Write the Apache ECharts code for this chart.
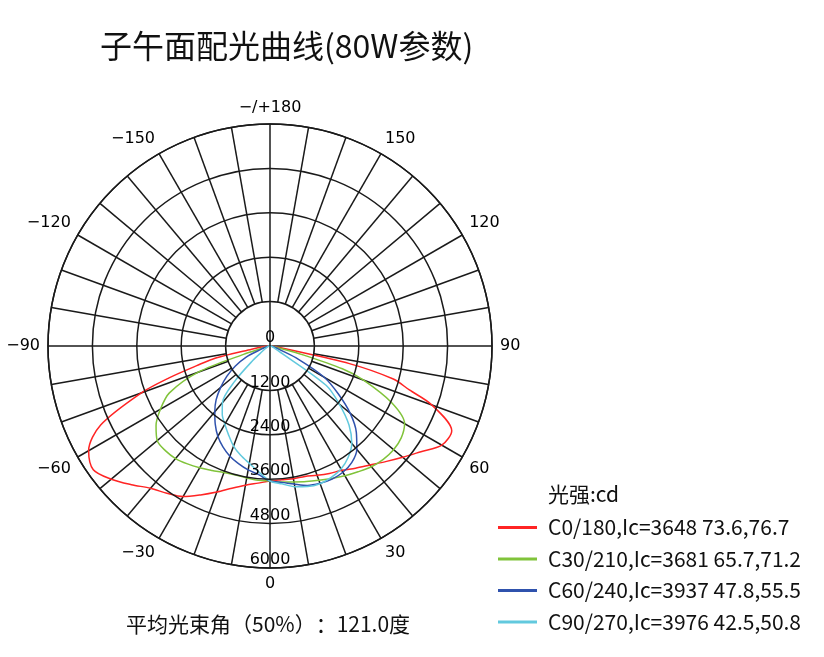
<!DOCTYPE html>
<html>
<head>
<meta charset="utf-8">
<script src="https://cdn.jsdelivr.net/npm/echarts@6/dist/echarts.min.js"></script>
<style>
  html, body { margin: 0; padding: 0; background: #fff; }
  #chart { width: 824px; height: 657px; }
</style>
</head>
<body>
<div id="chart"></div>
<script>
// 垂直角 γ (0 = 正下方)
const gammas = [0, 5, 10, 15, 20, 25, 30, 35, 40, 45, 50, 55, 60, 65, 70, 72.5, 75, 77.5, 80, 85, 90]

// 每个C平面: 左半边 / 右半边 光强(cd)
const c0Left = [3650, 3720, 3820, 3980, 4200, 4440, 4700, 4860, 5020, 5300, 5600, 5830, 5660, 5050, 3700, 2860, 2050, 1500, 500, 150, 50]
const c0Right = [3650, 3630, 3640, 3650, 3720, 3800, 3880, 4030, 4200, 4420, 4680, 4980, 5360, 5420, 4650, 3950, 3450, 2200, 350, 120, 50]
const c30Left = [3650, 3640, 3620, 3610, 3640, 3710, 3800, 3890, 3970, 4000, 3980, 3760, 3420, 3000, 2050, 750, 200, 120, 80, 50, 30]
const c30Right = [3650, 3690, 3730, 3790, 3860, 3950, 4050, 4150, 4260, 4330, 4360, 4330, 4200, 3630, 2680, 2050, 900, 250, 120, 60, 30]
const c60Left = [3650, 3490, 3400, 3290, 3170, 3010, 2820, 2580, 2320, 2060, 1740, 1420, 1080, 720, 250, 180, 130, 100, 80, 50, 30]
const c60Right = [3650, 3700, 3790, 3900, 3950, 3970, 3940, 3850, 3650, 3300, 2830, 2250, 1700, 850, 250, 180, 130, 100, 80, 50, 30]
const c90Left = [3650, 3420, 3220, 3060, 2880, 2650, 2440, 2250, 2000, 1350, 600, 250, 150, 100, 80, 70, 60, 50, 40, 30, 20]
const c90Right = [3650, 3740, 3860, 3930, 3960, 3920, 3840, 3680, 3440, 3020, 2450, 1850, 250, 120, 80, 70, 60, 50, 40, 30, 20]

const seriesNames = ['C0/180,Ic=3648 73.6,76.7', 'C30/210,Ic=3681 65.7,71.2', 'C60/240,Ic=3937 47.8,55.5', 'C90/270,Ic=3976 42.5,50.8']
const seriesColors = ['#ff2424', '#80c33a', '#2f52ad', '#62c9de']

const rMax = 6000
const ringStep = 1200
const gridColor = '#1a1a1a'

// 左半边 γ -> 360-γ, 右半边 γ
function toPolar(left, right) {
  const pts = []
  for (let i = gammas.length - 1; i >= 0; i--) pts.push([left[i], 360 - gammas[i]])
  for (let i = 0; i < gammas.length; i++) pts.push([right[i], gammas[i]])
  return pts
}

const curveData = [
  toPolar(c0Left, c0Right),
  toPolar(c30Left, c30Right),
  toPolar(c60Left, c60Right),
  toPolar(c90Left, c90Right),
]

const spokeAngles = []
for (let a = 0; a < 360; a += 10) spokeAngles.push([rMax, a])

const chart = echarts.init(document.getElementById('chart'))

const lineSeries = curveData.map((d, i) => ({
  name: seriesNames[i],
  type: 'line',
  coordinateSystem: 'polar',
  data: d,
  symbol: 'none',
  smooth: 0.3,
  lineStyle: { color: seriesColors[i], width: 1.5 },
  itemStyle: { color: seriesColors[i] },
  z: 3,
}))

const cjk = { fontFamily: 'Noto Sans CJK SC', fontSize: 21, color: '#111' }

chart.setOption({
  animation: false,
  title: [
    {
      text: '子午面配光曲线(80W参数)',
      left: 100,
      top: 30,
      padding: 0,
      textStyle: { fontFamily: 'Noto Sans CJK SC', fontSize: 32, fontWeight: 'normal', color: '#111' },
    },
    {
      text: '光强:cd',
      left: 548,
      top: 484,
      padding: 0,
      textStyle: { fontFamily: 'Noto Sans CJK SC', fontSize: 21, fontWeight: 'normal', color: '#111' },
    },
    {
      text: '{a|平均光束角}{a|（}{a|50%}{a|）}{a|：}{a|121.0度}',
      left: 126,
      top: 614,
      padding: 0,
      textStyle: {
        fontFamily: 'Noto Sans CJK SC', fontSize: 21, fontWeight: 'normal', color: '#111',
        rich: { a: cjk },
      },
    },
  ],
  legend: {
    data: seriesNames,
    orient: 'vertical',
    left: 498,
    top: 517,
    padding: 0,
    icon: 'rect',
    itemWidth: 39,
    itemHeight: 3,
    itemGap: 10.5,
    textStyle: { fontFamily: 'Noto Sans CJK SC', fontSize: 21, lineHeight: 21, color: '#111', padding: [0, 0, 0, 6] },
  },
  polar: {
    center: [270, 346],
    radius: 222,
  },
  angleAxis: {
    type: 'value',
    min: 0,
    max: 360,
    interval: 10,
    startAngle: 270,
    clockwise: false,
    axisLine: { lineStyle: { color: gridColor, width: 1.5 } },
    axisTick: { show: false },
    splitLine: { show: false },
    axisLabel: {
      margin: 8,
      fontFamily: 'DejaVu Sans',
      fontSize: 16,
      color: '#000',
      formatter: (v) => {
        if (v % 30 !== 0 || v === 360) return ''
        if (v === 180) return '\u2212/+180'
        if (v > 180) return '\u2212' + (360 - v)
        return String(v)
      },
    },
  },
  radiusAxis: {
    type: 'value',
    min: 0,
    max: rMax,
    interval: ringStep,
    axisLine: { show: false },
    axisTick: { show: false },
    splitLine: { show: true, lineStyle: { color: gridColor, width: 1.5 } },
    axisLabel: {
      margin: 0,
      align: 'center',
      verticalAlign: 'bottom',
      fontFamily: 'DejaVu Sans',
      fontSize: 16,
      color: '#000',
      formatter: (v) => String(v),
    },
    z: 5,
  },
  series: [
    {
      type: 'custom',
      coordinateSystem: 'polar',
      silent: true,
      z: 1,
      data: spokeAngles,
      renderItem: (params, api) => {
        const a = api.value(1)
        const r0 = a % 90 === 0 ? 0 : ringStep
        const p0 = api.coord([r0, a])
        const p1 = api.coord([rMax, a])
        return {
          type: 'line',
          shape: { x1: p0[0], y1: p0[1], x2: p1[0], y2: p1[1] },
          style: { stroke: gridColor, lineWidth: 1.5 },
        }
      },
    },
    ...lineSeries,
  ],
})
</script>
</body>
</html>
